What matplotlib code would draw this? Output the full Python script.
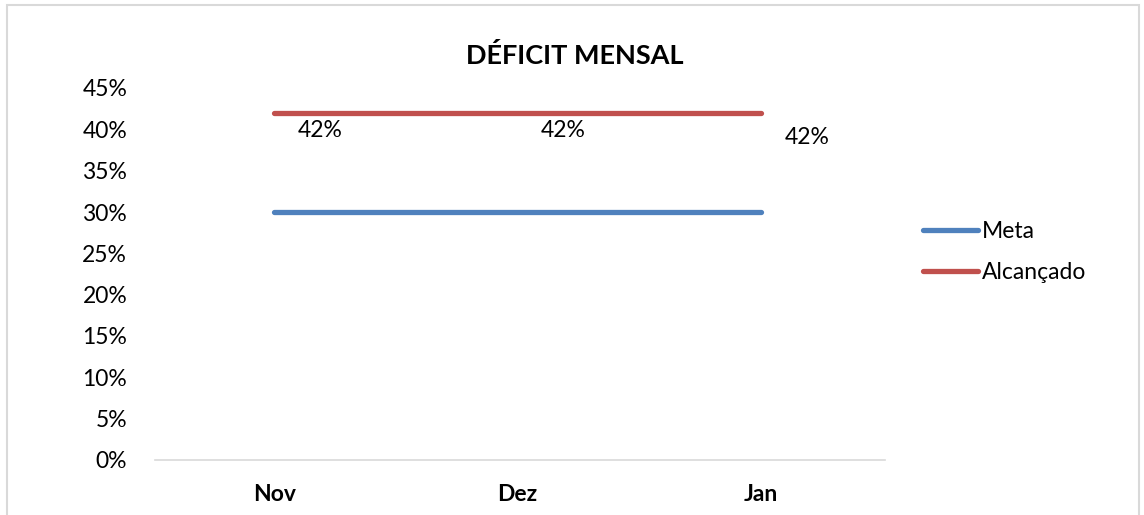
import numpy as np
import matplotlib.pyplot as plt
from matplotlib.patches import Rectangle

plt.rcParams["font.family"] = ["Lato", "DejaVu Sans"]

months = ["Nov", "Dez", "Jan"]
meta = [0.30, 0.30, 0.30]
alcancado = [0.42, 0.42, 0.42]
yticks = [0, 0.05, 0.10, 0.15, 0.20, 0.25, 0.30, 0.35, 0.40, 0.45]

# label offsets (points) as in the original
label_offsets = [(33, -13), (33, -13), (33, -18)]

fs = 16.5

fig = plt.figure(figsize=(11.44, 5.15), dpi=100)
fig.patches.append(
    Rectangle((7 / 1144, -0.05), 1132 / 1144, 1.05 - 5 / 515,
              transform=fig.transFigure, fill=False,
              edgecolor="#d9d9d9", linewidth=1.5)
)
ax = fig.add_axes([155 / 1144, 1 - 460 / 515, 730 / 1144, 372 / 515])

x = np.arange(len(months))
ax.plot(x, meta, color="#4f81bd", linewidth=3.8, solid_capstyle="round", label="Meta")
ax.plot(x, alcancado, color="#c0504d", linewidth=3.8, solid_capstyle="round", label="Alcançado")

for xi, v, off in zip(x, alcancado, label_offsets):
    ax.annotate(f"{v * 100:.0f}%", (xi, v), xytext=off, textcoords="offset points",
                ha="center", va="center", fontsize=fs)

ax.set_xlim(-0.49, 2.51)
ax.set_ylim(0, 0.45)
ax.set_yticks(yticks)
ax.set_yticklabels([f"{t * 100:.0f}%" for t in yticks], fontsize=fs)
ax.set_xticks(x)
ax.set_xticklabels(months, fontsize=fs, fontweight="bold")
ax.tick_params(axis="x", length=0, pad=17)
ax.tick_params(axis="y", length=0, pad=20)
for s in ["top", "right", "left"]:
    ax.spines[s].set_visible(False)
ax.spines["bottom"].set_color("#d9d9d9")
ax.spines["bottom"].set_linewidth(1.2)

fig.text(575 / 1144, 1 - 55 / 515, "DÉFICIT MENSAL", ha="center", va="center",
         fontsize=19.5, fontweight="bold")

fig.legend(loc="center left", bbox_to_anchor=(902 / 1144, 1 - 252 / 515),
           frameon=False, fontsize=fs, handlelength=2.4, handletextpad=0.2,
           labelspacing=0.85)

fig.savefig("out.png", dpi=100)
